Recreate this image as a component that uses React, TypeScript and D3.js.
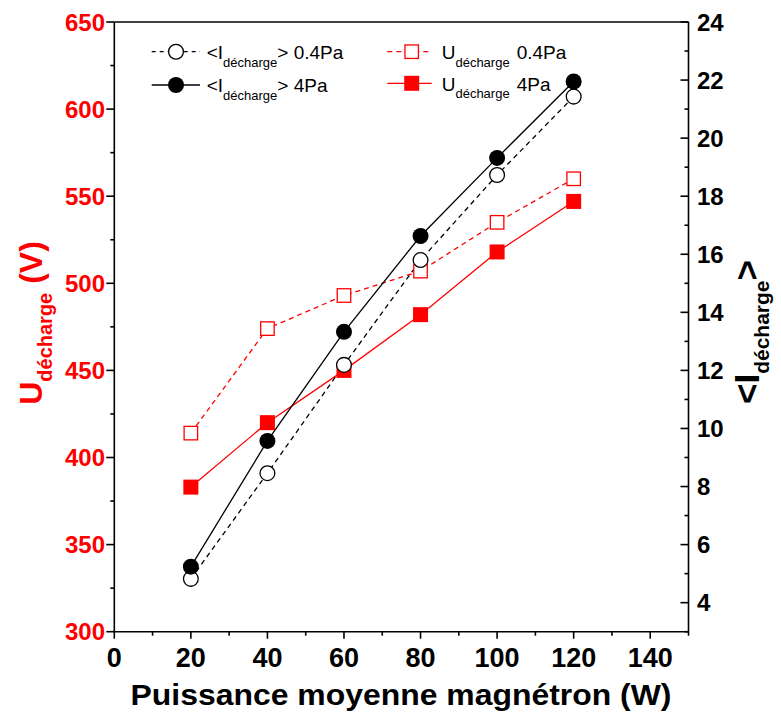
import React from "react";
import * as d3 from "d3";

const xVals = [20, 40, 60, 80, 100, 120];
const iLow = [4.82, 8.46, 12.19, 15.8, 18.73, 21.43];
const iHigh = [5.24, 9.57, 13.33, 16.63, 19.32, 21.95];
const uLow = [414, 474, 493, 507, 535, 560];
const uHigh = [383, 420, 450, 482, 518, 547];

const xTicks = [0, 20, 40, 60, 80, 100, 120, 140];
const xMinor = [10, 30, 50, 70, 90, 110, 130, 150];
const yLeftTicks = [300, 350, 400, 450, 500, 550, 600, 650];
const yLeftMinor = [325, 375, 425, 475, 525, 575, 625];
const yRightTicks = [4, 6, 8, 10, 12, 14, 16, 18, 20, 22, 24];
const yRightMinor = [3, 5, 7, 9, 11, 13, 15, 17, 19, 21, 23];

const FONT = "'Liberation Sans', Arial, sans-serif";
const RED = "#ff0000";

export default function App() {
  const L = 114.3, R = 688.5, T = 22, B = 631.7;
  const x = d3.scaleLinear().domain([0, 150]).range([L, R]);
  const yL = d3.scaleLinear().domain([300, 650]).range([B, T]);
  const yR = d3.scaleLinear().domain([3, 24]).range([B, T]);

  const lineL = (vals: number[]) =>
    d3.line<number>().x((_, i) => x(xVals[i])).y((d) => yL(d))(vals) || "";
  const lineR = (vals: number[]) =>
    d3.line<number>().x((_, i) => x(xVals[i])).y((d) => yR(d))(vals) || "";

  const sq = 15, sqo = 13.5, r = 8;

  return (
    <svg width={781} height={713} style={{ position: "absolute", left: 0, top: 0, background: "#fff" }} fontFamily={FONT}>
      <rect x={0} y={0} width={781} height={713} fill="#fff" />
      {/* frame */}
      <line x1={L} y1={T} x2={R} y2={T} stroke="#000" strokeWidth={1.6} />
      <line x1={L} y1={B} x2={R} y2={B} stroke="#000" strokeWidth={1.6} />
      <line x1={L} y1={T} x2={L} y2={B} stroke="#000" strokeWidth={1.6} />
      <line x1={R} y1={T} x2={R} y2={B} stroke="#000" strokeWidth={1.6} />

      {/* bottom axis */}
      {xTicks.map((t) => (
        <g key={"xt" + t}>
          <line x1={x(t)} x2={x(t)} y1={B} y2={B + 7} stroke="#000" strokeWidth={1.6} />
          <text x={x(t)} y={667.3} fontSize={27} fontWeight="bold" textAnchor="middle" fill="#000">{t}</text>
        </g>
      ))}
      {xMinor.map((t) => (
        <line key={"xm" + t} x1={x(t)} x2={x(t)} y1={B} y2={B + 4} stroke="#000" strokeWidth={1.6} />
      ))}

      {/* left axis */}
      {yLeftTicks.map((t) => (
        <g key={"yl" + t}>
          <line x1={L - 8} x2={L} y1={yL(t)} y2={yL(t)} stroke="#000" strokeWidth={1.6} />
          <text x={105} y={yL(t)} dy="0.36em" fontSize={24} fontWeight="bold" textAnchor="end" fill={RED}>{t}</text>
        </g>
      ))}
      {yLeftMinor.map((t) => (
        <line key={"ylm" + t} x1={L - 4} x2={L} y1={yL(t)} y2={yL(t)} stroke="#000" strokeWidth={1.6} />
      ))}

      {/* right axis */}
      {yRightTicks.map((t) => (
        <g key={"yr" + t}>
          <line x1={R - 8} x2={R} y1={yR(t)} y2={yR(t)} stroke="#000" strokeWidth={1.6} />
          <text x={697} y={yR(t)} dy="0.36em" fontSize={24} fontWeight="bold" textAnchor="start" fill="#000">{t}</text>
        </g>
      ))}
      {yRightMinor.map((t) => (
        <line key={"yrm" + t} x1={R - 4} x2={R} y1={yR(t)} y2={yR(t)} stroke="#000" strokeWidth={1.6} />
      ))}

      {/* axis titles */}
      <text x={401} y={705} fontSize={29} fontWeight="bold" textAnchor="middle" fill="#000" textLength={541} lengthAdjust="spacingAndGlyphs">
        Puissance moyenne magnétron (W)
      </text>
      <text transform="translate(41.5,323) rotate(-90)" fontWeight="bold" textAnchor="middle" fill={RED}>
        <tspan fontSize={32}>U</tspan>
        <tspan fontSize={20} dy={10}>décharge</tspan>
        <tspan fontSize={32} dy={-10}> (V)</tspan>
      </text>
      <text transform="translate(759,332) rotate(-90)" fontWeight="bold" textAnchor="middle" fill="#000">
        <tspan fontSize={35}>&lt;I</tspan>
        <tspan fontSize={21} dy={10}>décharge</tspan>
        <tspan fontSize={35} dy={-10}>&gt;</tspan>
      </text>

      {/* data lines */}
      <path d={lineL(uLow)} fill="none" stroke={RED} strokeWidth={1.3} strokeDasharray="5,4" />
      <path d={lineL(uHigh)} fill="none" stroke={RED} strokeWidth={1.3} />
      <path d={lineR(iLow)} fill="none" stroke="#000" strokeWidth={1.3} strokeDasharray="5,4" />
      <path d={lineR(iHigh)} fill="none" stroke="#000" strokeWidth={1.3} />

      {/* square markers */}
      {uLow.map((v, i) => (
        <rect key={"ul" + i} x={x(xVals[i]) - sqo / 2} y={yL(v) - sqo / 2} width={sqo} height={sqo} fill="#fff" stroke={RED} strokeWidth={1.3} />
      ))}
      {uHigh.map((v, i) => (
        <rect key={"uh" + i} x={x(xVals[i]) - sq / 2} y={yL(v) - sq / 2} width={sq} height={sq} fill={RED} />
      ))}
      {/* circle markers */}
      {iLow.map((v, i) => (
        <circle key={"il" + i} cx={x(xVals[i])} cy={yR(v)} r={r - 0.6} fill="#fff" stroke="#000" strokeWidth={1.3} />
      ))}
      {iHigh.map((v, i) => (
        <circle key={"ih" + i} cx={x(xVals[i])} cy={yR(v)} r={r} fill="#000" />
      ))}

      {/* legend left */}
      <line x1={151.7} x2={200} y1={51.7} y2={51.7} stroke="#000" strokeWidth={1.3} strokeDasharray="4,4" />
      <circle cx={176} cy={51.7} r={7.4} fill="#fff" stroke="#000" strokeWidth={1.3} />
      <text x={206.7} y={59} fontSize={19} fill="#000">
        <tspan>&lt;I</tspan>
        <tspan fontSize={13} dy={7.5}>décharge</tspan>
        <tspan dy={-7.5}>&gt; 0.4Pa</tspan>
      </text>
      <line x1={151.7} x2={200} y1={85} y2={85} stroke="#000" strokeWidth={1.3} />
      <circle cx={176} cy={85} r={8} fill="#000" />
      <text x={206.7} y={92.3} fontSize={19} fill="#000">
        <tspan>&lt;I</tspan>
        <tspan fontSize={13} dy={7.5}>décharge</tspan>
        <tspan dy={-7.5}>&gt; 4Pa</tspan>
      </text>

      {/* legend right */}
      <line x1={387.3} x2={431.7} y1={51.7} y2={51.7} stroke={RED} strokeWidth={1.3} strokeDasharray="5,4" />
      <rect x={411.7 - sqo / 2} y={51.7 - sqo / 2} width={sqo} height={sqo} fill="#fff" stroke={RED} strokeWidth={1.3} />
      <text x={441.7} y={59} fontSize={19} fill="#000">
        <tspan>U</tspan>
        <tspan fontSize={13} dy={7.5}>décharge</tspan>
        <tspan x={516.7} dy={-7.5}>0.4Pa</tspan>
      </text>
      <line x1={387.3} x2={431.7} y1={83.3} y2={83.3} stroke={RED} strokeWidth={1.3} />
      <rect x={411.7 - sq / 2} y={83.3 - sq / 2} width={sq} height={sq} fill={RED} />
      <text x={441.7} y={90.6} fontSize={19} fill="#000">
        <tspan>U</tspan>
        <tspan fontSize={13} dy={7.5}>décharge</tspan>
        <tspan x={516.7} dy={-7.5}>4Pa</tspan>
      </text>
    </svg>
  );
}
